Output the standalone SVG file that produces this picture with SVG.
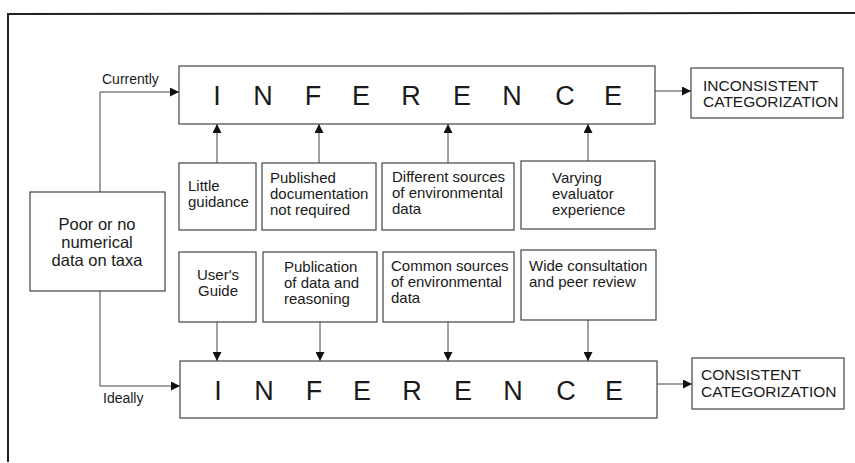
<svg xmlns="http://www.w3.org/2000/svg" width="855" height="463" viewBox="0 0 855 463">
<style>
text{font-family:"Liberation Sans",Arial,sans-serif;fill:#1a1a1a}
.box{fill:#fff;stroke:#444;stroke-width:1.2}
.big{font-size:27px;text-anchor:middle}
.sm{font-size:15px}
.cat{font-size:15.5px}
.lbl{font-size:14px}
.ln{fill:none;stroke:#444;stroke-width:1}
</style>
<defs>
<marker id="ah" viewBox="0 0 10 10" refX="10" refY="5" markerWidth="10" markerHeight="9" markerUnits="userSpaceOnUse" orient="auto">
<path d="M0,0 L10,5 L0,10 Z" fill="#111"/>
</marker>
</defs>
<rect width="855" height="463" fill="#fff"/>
<path d="M8,462 L8,14 L855,13" fill="none" stroke="#222" stroke-width="2"/>

<g id="connectors">
<path class="ln" d="M100,192 L100,92 L179,92" marker-end="url(#ah)"/>
<path class="ln" d="M100,291 L100,386 L180,386" marker-end="url(#ah)"/>
<path class="ln" d="M655,91 L691,91" marker-end="url(#ah)"/>
<path class="ln" d="M657,384 L692,384" marker-end="url(#ah)"/>
<path class="ln" d="M217,163 L217,124" marker-end="url(#ah)"/>
<path class="ln" d="M319,163 L319,124" marker-end="url(#ah)"/>
<path class="ln" d="M448,163 L448,124" marker-end="url(#ah)"/>
<path class="ln" d="M588,161 L588,124" marker-end="url(#ah)"/>
<path class="ln" d="M217,322 L217,361" marker-end="url(#ah)"/>
<path class="ln" d="M320,322 L320,361" marker-end="url(#ah)"/>
<path class="ln" d="M448,322 L448,361" marker-end="url(#ah)"/>
<path class="ln" d="M588,320 L588,361" marker-end="url(#ah)"/>
<text class="lbl" x="102" y="84">Currently</text>
<text class="lbl" x="103" y="403">Ideally</text>
</g>

<g id="source">
<rect class="box" x="30" y="192" width="135" height="99"/>
<text style="font-size:16.5px;text-anchor:middle" x="97" y="230">Poor or no</text>
<text style="font-size:16.5px;text-anchor:middle" x="97" y="248">numerical</text>
<text style="font-size:16.5px;text-anchor:middle" x="97" y="266">data on taxa</text>
</g>

<g id="inference-top">
<rect class="box" x="179" y="66" width="476" height="58"/>
<text class="big" y="105"><tspan x="217">I</tspan><tspan x="263">N</tspan><tspan x="313">F</tspan><tspan x="361">E</tspan><tspan x="411">R</tspan><tspan x="462">E</tspan><tspan x="512">N</tspan><tspan x="565">C</tspan><tspan x="613">E</tspan></text>
</g>

<g id="inconsistent">
<rect class="box" x="691" y="68" width="152" height="50"/>
<text class="cat" x="703" y="91">INCONSISTENT</text>
<text class="cat" x="703" y="107">CATEGORIZATION</text>
</g>

<g id="inference-bottom">
<rect class="box" x="180" y="361" width="477" height="57"/>
<text class="big" y="400"><tspan x="218">I</tspan><tspan x="264">N</tspan><tspan x="314">F</tspan><tspan x="362">E</tspan><tspan x="412">R</tspan><tspan x="463">E</tspan><tspan x="513">N</tspan><tspan x="566">C</tspan><tspan x="614">E</tspan></text>
</g>

<g id="consistent">
<rect class="box" x="692" y="358" width="152" height="51"/>
<text class="cat" x="701" y="380">CONSISTENT</text>
<text class="cat" x="701" y="397">CATEGORIZATION</text>
</g>

<g id="little-guidance">
<rect class="box" x="179" y="163" width="77" height="67"/>
<text class="sm" x="188" y="191">Little</text>
<text class="sm" x="188" y="207">guidance</text>
</g>
<g id="published-doc">
<rect class="box" x="262" y="163" width="114" height="67"/>
<text class="sm" x="270" y="183">Published</text>
<text class="sm" x="270" y="199">documentation</text>
<text class="sm" x="270" y="215">not required</text>
</g>
<g id="different-sources">
<rect class="box" x="382" y="163" width="132" height="67"/>
<text class="sm" x="392" y="182">Different sources</text>
<text class="sm" x="392" y="198">of environmental</text>
<text class="sm" x="392" y="214">data</text>
</g>
<g id="varying">
<rect class="box" x="521" y="161" width="134" height="68"/>
<text class="sm" x="552" y="183">Varying</text>
<text class="sm" x="552" y="199">evaluator</text>
<text class="sm" x="552" y="215">experience</text>
</g>

<g id="users-guide">
<rect class="box" x="179" y="252" width="77" height="70"/>
<text class="sm" style="text-anchor:middle" x="218" y="280">User's</text>
<text class="sm" style="text-anchor:middle" x="218" y="296">Guide</text>
</g>
<g id="publication">
<rect class="box" x="263" y="252" width="114" height="70"/>
<text class="sm" x="284" y="272">Publication</text>
<text class="sm" x="284" y="288">of data and</text>
<text class="sm" x="284" y="304">reasoning</text>
</g>
<g id="common-sources">
<rect class="box" x="383" y="252" width="131" height="70"/>
<text class="sm" x="391" y="271">Common sources</text>
<text class="sm" x="391" y="287">of environmental</text>
<text class="sm" x="391" y="303">data</text>
</g>
<g id="wide-consultation">
<rect class="box" x="521" y="250" width="135" height="70"/>
<text class="sm" x="529" y="271">Wide consultation</text>
<text class="sm" x="529" y="287">and peer review</text>
</g>
</svg>
